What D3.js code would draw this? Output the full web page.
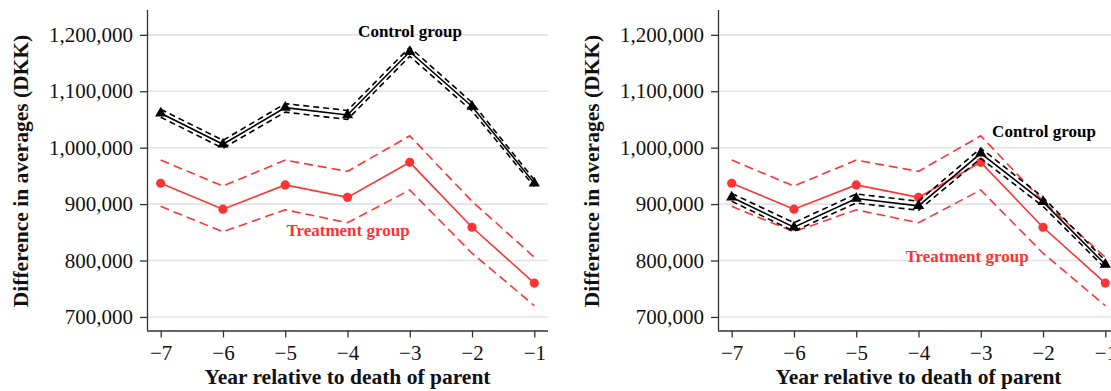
<!DOCTYPE html>
<html>
<head>
<meta charset="utf-8">
<script src="https://cdn.jsdelivr.net/npm/d3@7"></script>
<style>
  body { margin: 0; background: #fff; }
  text { font-family: "Liberation Serif", "Times New Roman", serif; }
  .axis text { font-size: 21px; fill: #111; }
  .axis path, .axis line { stroke: #333; stroke-width: 1.3; }
  .title { font-size: 21.5px; font-weight: bold; fill: #111; }
  .label { font-size: 17px; font-weight: bold; }
</style>
</head>
<body>
<div id="chart"></div>
<script>
// years before the parent's death
const years = [-7, -6, -5, -4, -3, -2, -1];
const yTicks = [700000, 800000, 900000, 1000000, 1100000, 1200000];

// treatment group (same in both panels)
const treatMean  = [937000, 891000, 934000, 912000, 974000, 859000, 760000];
const treatUpper = [978000, 932000, 978000, 958000, 1021000, 905000, 806000];
const treatLower = [896000, 851000, 890000, 867000, 925000, 813000, 720000];

// control group, left panel
const ctrlMeanA  = [1061000, 1006000, 1071000, 1058000, 1170000, 1073000, 937000];
const ctrlUpperA = [1068000, 1013000, 1078000, 1066000, 1178000, 1080000, 943000];
const ctrlLowerA = [1054000, 999000, 1063000, 1050000, 1162000, 1065000, 931000];

// control group, right panel
const ctrlMeanB  = [912000, 859000, 910000, 897000, 990000, 904000, 793000];
const ctrlUpperB = [919000, 867000, 918000, 905000, 999000, 912000, 800000];
const ctrlLowerB = [905000, 852000, 902000, 889000, 981000, 896000, 786000];

const red = "#ff3333";
const W = 1111, H = 391;
const plotW = 401, plotTop = 10, plotBottom = 330.5;

const svg = d3.select("#chart").append("svg")
    .attr("width", W)
    .attr("height", H);

function drawPanel(x0, ctrl, ctrlHi, ctrlLo, ctrlLabel, treatLabel) {
    let g = svg.append("g").attr("transform", "translate(" + x0 + ",0)");

    let x = d3.scaleLinear().domain([-7.22, -0.78]).range([0, plotW]);
    let y = d3.scaleLinear().domain([676000, 1244000]).range([plotBottom, plotTop]);

    // grid
    g.append("g").selectAll("line")
        .data(yTicks)
        .enter().append("line")
        .attr("x1", 0).attr("x2", plotW)
        .attr("y1", d => y(d)).attr("y2", d => y(d))
        .attr("stroke", "#e3e3e3")
        .attr("stroke-width", 1.6);

    g.append("g")
        .attr("class", "axis")
        .call(d3.axisLeft(y).tickValues(yTicks).tickFormat(d3.format(","))
            .tickSize(7).tickPadding(7).tickSizeOuter(0));

    g.append("g")
        .attr("class", "axis")
        .attr("transform", "translate(0," + plotBottom + ")")
        .call(d3.axisBottom(x).tickValues(years).tickFormat(d3.format("d"))
            .tickSize(7).tickPadding(8).tickSizeOuter(0));

    g.selectAll(".axis .domain").attr("d", function() {
        return d3.select(this.parentNode).attr("transform")
            ? "M0,0.5H" + plotW
            : "M0.5," + plotBottom + "V" + plotTop;
    });

    let line = (vals) => d3.line().x((d, i) => x(years[i])).y(d => y(d))(vals);

    // treatment group
    [treatUpper, treatLower].forEach(v => {
        g.append("path").attr("d", line(v))
            .attr("fill", "none").attr("stroke", red)
            .attr("stroke-width", 1.6).attr("stroke-dasharray", "9,5");
    });
    g.append("path").attr("d", line(treatMean))
        .attr("fill", "none").attr("stroke", red).attr("stroke-width", 1.6);
    g.append("g").selectAll("circle")
        .data(treatMean)
        .enter().append("circle")
        .attr("cx", (d, i) => x(years[i]))
        .attr("cy", d => y(d))
        .attr("r", 4.6)
        .attr("fill", red);

    // control group
    [ctrlHi, ctrlLo].forEach(v => {
        g.append("path").attr("d", line(v))
            .attr("fill", "none").attr("stroke", "#000")
            .attr("stroke-width", 1.6).attr("stroke-dasharray", "6,4");
    });
    g.append("path").attr("d", line(ctrl))
        .attr("fill", "none").attr("stroke", "#000").attr("stroke-width", 1.6);
    g.append("g").selectAll("path")
        .data(ctrl)
        .enter().append("path")
        .attr("transform", (d, i) => "translate(" + x(years[i]) + "," + y(d) + ")")
        .attr("d", d3.symbol().type(d3.symbolTriangle).size(55))
        .attr("fill", "#000");

    g.append("text")
        .attr("class", "label")
        .attr("x", ctrlLabel[0]).attr("y", ctrlLabel[1])
        .attr("text-anchor", "middle")
        .attr("fill", "#000")
        .text("Control group");

    g.append("text")
        .attr("class", "label")
        .attr("x", treatLabel[0]).attr("y", treatLabel[1])
        .attr("text-anchor", "middle")
        .attr("fill", red)
        .text("Treatment group");

    g.append("text")
        .attr("class", "title")
        .attr("text-anchor", "middle")
        .attr("transform", "translate(" + (-119) + "," + 171 + ") rotate(-90)")
        .text("Difference in averages (DKK)");

    g.append("text")
        .attr("class", "title")
        .attr("text-anchor", "middle")
        .attr("x", plotW / 2).attr("y", 384)
        .text("Year relative to death of parent");
}

drawPanel(147, ctrlMeanA, ctrlUpperA, ctrlLowerA, [263, 36.5], [201, 235.5]);
drawPanel(718, ctrlMeanB, ctrlUpperB, ctrlLowerB, [326, 136.5], [249, 261.5]);
</script>
</body>
</html>
